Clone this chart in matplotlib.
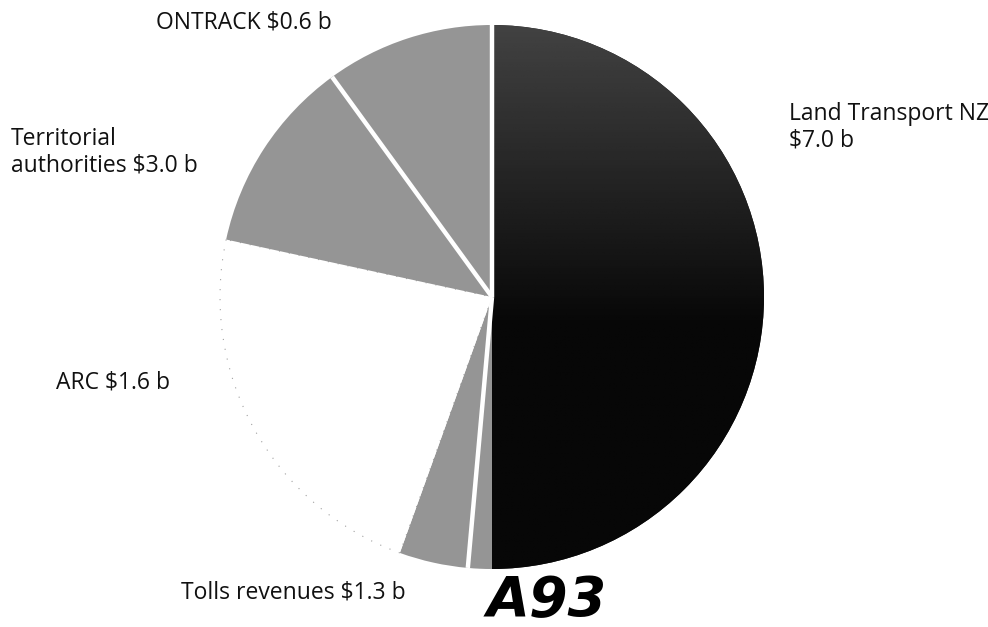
"""
Pie of transport funding sources (scanned page figure, slices drawn by the
visual angles read off the page, labels carry the dollar amounts).
"""
import matplotlib.pyplot as plt
import numpy as np

# slice order: clockwise from 12 o'clock
segments = ["Land Transport NZ", "(unlabelled)", "Tolls revenues", "ARC",
            "Territorial authorities", "ONTRACK"]
slice_deg = [180.0, 5.1, 14.7, 82.4, 41.8, 36.0]
slice_colors = ["#1c1c1c", "#959595", "#959595", "#ffffff", "#959595", "#959595"]

label_texts = ["Land Transport NZ\n$7.0 b", "Tolls revenues $1.3 b", "ARC $1.6 b",
               "Territorial\nauthorities $3.0 b", "ONTRACK $0.6 b"]
label_xy = [(789, 127), (181, 593), (56, 383), (11, 152), (156, 22)]

# boundaries that carry a white separator (index into cumulative edges)
separator_edges = [0, 2, 5]

W, H = 988, 627
CX, CY, R = 492, H - 297, 272

fig = plt.figure(figsize=(W / 100, H / 100), dpi=100)
ax = fig.add_axes([0, 0, 1, 1])

wedges, _ = ax.pie(slice_deg, colors=slice_colors, startangle=90,
                   counterclock=False, center=(CX, CY), radius=R,
                   wedgeprops=dict(linewidth=0))

# dark slice: scanned stipple gets darker toward the bottom
yy = np.linspace(0, 1, 200)[:, None] * np.ones((1, 50))
shade = np.clip(0.26 - 0.42 * yy, 0.03, 1)
img = ax.imshow(shade, cmap="gray", vmin=0, vmax=1, aspect="auto",
                extent=(CX, CX + R, CY - R, CY + R), zorder=2)
img.set_clip_path(wedges[0])

# faint dotted rim of the white ARC slice
wedges[3].set_edgecolor("#a0a0a0")
wedges[3].set_linestyle((0, (1, 8)))
wedges[3].set_linewidth(0.8)

edges = 90 - np.concatenate([[0], np.cumsum(slice_deg)])
for i in separator_edges:
    t = np.deg2rad(edges[i])
    ax.plot([CX, CX + R * np.cos(t)], [CY, CY + R * np.sin(t)],
            color="white", lw=3.2, solid_capstyle="butt", zorder=3)

for text, (x, y) in zip(label_texts, label_xy):
    ax.text(x, H - y, text, ha="left", va="center", fontsize=16.5,
            family="Open Sans", color="#111111", linespacing=1.12)

ax.text(487, H - 601, "A93", ha="left", va="center", fontsize=40,
        fontweight="bold", fontstyle="italic", color="black")

ax.set_xlim(0, W)
ax.set_ylim(0, H)
ax.set_aspect("auto")
ax.axis("off")

fig.savefig("out.png", dpi=100)
